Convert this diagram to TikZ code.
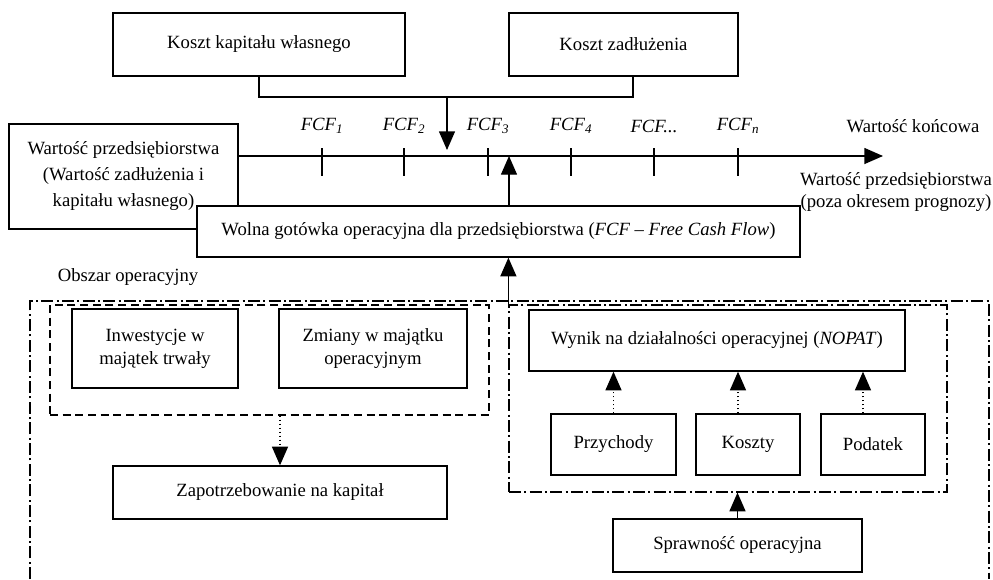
\documentclass[tikz,border=0pt]{standalone}
\usepackage{fontspec}
\setmainfont{Liberation Serif}
\usetikzlibrary{arrows.meta,calc}
\begin{document}
\begin{tikzpicture}[x=0.75pt,y=-0.75pt,
  every node/.style={font=\fontsize{14}{17}\selectfont},
  box/.style={draw,line width=1pt,rectangle,fill=white,inner sep=0pt,align=center},
  grpdash/.style={draw,line width=0.9pt,dash pattern=on 6pt off 3.5pt,inner sep=0pt},
  grpdashdot/.style={draw,line width=0.9pt,dash pattern=on 9pt off 2.5pt on 1.5pt off 2.5pt,inner sep=0pt},
  conn/.style={line width=1pt},
  tip/.style={conn,-{Triangle[length=14pt,width=12pt]}},
  dottip/.style={conn,dotted,-{Triangle[length=14pt,width=12pt]}},
  lbl/.style={inner sep=0pt,align=center}]
\useasboundingbox (0,0) rectangle (993,579);

% cost of capital boxes
\node[box,minimum width=292*0.75pt,minimum height=63*0.75pt] (kkw) at (259,44.5) {Koszt kapitału własnego};
\node[box,minimum width=229*0.75pt,minimum height=63*0.75pt] (kz) at (623.5,44.5) {Koszt zadłużenia};

% bracket joining the two costs
\coordinate (jl) at (259,97);
\coordinate (jr) at (633,97);
\coordinate (jm) at (447,97);
\coordinate (jtip) at (447,150);
\draw[conn] (kkw.south) -- (jl) -- (jr) -- (jr |- kz.south);
\draw[tip] (jm) -- (jtip);

% enterprise value box
\node[box,minimum width=229*0.75pt,minimum height=105*0.75pt,font=\fontsize{14}{19.5}\selectfont] (wp) at (123.5,176.5)
  {Wartość przedsiębiorstwa\\(Wartość zadłużenia i\\kapitału własnego)};

% time axis with FCF ticks
\coordinate (tl0) at (238,156);
\coordinate (tlend) at (883,156);
\draw[tip] (tl0) -- (tlend);
\foreach \x/\t in {322/{FCF\textsubscript{1}},404/{FCF\textsubscript{2}},488/{FCF\textsubscript{3}},571/{FCF\textsubscript{4}},654/{FCF...},738/{FCF\textsubscript{n}}}{
  \draw[conn] (\x,148) -- (\x,176);
  \node[lbl] (fcf\x) at (\x,126) {\textit{\t}};
}
\node[lbl] (wk) at (913,126) {Wartość końcowa};
\node[lbl] (wpp) at (896,192) {Wartość przedsiębiorstwa\\(poza okresem prognozy)};

% free cash flow box
\node[box,minimum width=603*0.75pt,minimum height=51*0.75pt] (wg) at (498.5,231.5)
  {Wolna gotówka operacyjna dla przedsiębiorstwa (\textit{FCF – Free Cash Flow})};
\coordinate (wgup) at (509,156);
\draw[tip] (wg.north -| wgup) -- (wgup);

% operating area
\node[lbl] (obszar) at (128,277) {Obszar operacyjny};
\draw[line width=0.9pt,dash pattern=on 9pt off 2.5pt on 1.5pt off 2.5pt] (30,579) -- (30,301) -- (989,301) -- (989,579);

% capital requirement group
\node[grpdash,minimum width=439*0.75pt,minimum height=110*0.75pt] (lgrp) at (269.5,360) {};
\node[box,minimum width=166*0.75pt,minimum height=79*0.75pt] (inw) at (155,348.5) {Inwestycje w\\majątek trwały};
\node[box,minimum width=188*0.75pt,minimum height=79*0.75pt] (zm) at (373,348.5) {Zmiany w majątku\\operacyjnym};
\node[box,minimum width=334*0.75pt,minimum height=53*0.75pt] (zap) at (280,492.5) {Zapotrzebowanie na kapitał};
\draw[dottip] (zap.north |- lgrp.south) -- (zap.north);

% operating profit group
\node[grpdashdot,minimum width=438*0.75pt,minimum height=187*0.75pt] (rgrp) at (728,398.5) {};
\node[box,minimum width=376*0.75pt,minimum height=61*0.75pt] (nopat) at (717,340.5) {Wynik na działalności operacyjnej (\textit{NOPAT})};
\node[box,minimum width=125*0.75pt,minimum height=61*0.75pt] (prz) at (613.5,444.5) {Przychody};
\node[box,minimum width=104*0.75pt,minimum height=61*0.75pt] (kos) at (748,444.5) {Koszty};
\node[box,minimum width=104*0.75pt,minimum height=61*0.75pt] (pod) at (873,444.5) {Podatek};
\draw[dottip] (prz.north) -- (prz.north |- nopat.south);
\draw[dottip] ([xshift=-7.5pt]kos.north) -- ([xshift=-7.5pt]kos.north |- nopat.south);
\draw[dottip] ([xshift=-7.5pt]pod.north) -- ([xshift=-7.5pt]pod.north |- nopat.south);
\draw[tip] (rgrp.north west) -- (rgrp.north west |- wg.south);

\node[box,minimum width=249*0.75pt,minimum height=53*0.75pt] (spr) at (737.5,545.5) {Sprawność operacyjna};
\draw[tip] (spr.north) -- (spr.north |- rgrp.south);
\end{tikzpicture}
\end{document}
